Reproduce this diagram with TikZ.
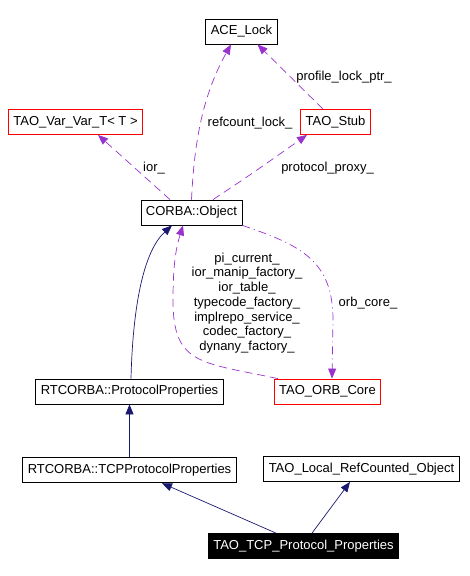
\documentclass[tikz,border=0pt]{standalone}
\usepackage{fontspec}
\setmainfont{Liberation Sans}
\usetikzlibrary{positioning, arrows.meta}
\usepackage{xcolor}
\definecolor{usepurple}{HTML}{9A32CD}
\definecolor{basenavy}{HTML}{191970}

\begin{document}
\begin{tikzpicture}[
                x=1pt, y=-1pt,
                font=\fontsize{13}{14.7}\selectfont,
                cls/.style={rectangle, draw=black, line width=0.8pt, minimum height=25pt, inner xsep=5pt, inner ysep=2pt, fill=white},
                redcls/.style={cls, draw=red},
                thiscls/.style={cls, fill=black, text=white},
                lbl/.style={inner sep=0pt, align=center},
                usearrow/.style={-{Triangle[length=10pt, width=8pt]}, line width=0.7pt, usepurple, dash pattern=on 8pt off 5pt},
                usedotarrow/.style={usearrow, dash pattern=on 8pt off 4pt on 1pt off 4pt},
                basearrow/.style={-{Triangle[length=10pt, width=8pt]}, line width=0.7pt, basenavy}
            ]
            \useasboundingbox (0,0) rectangle (470,576);

            % Used classes
            \node[cls] (acelock) at (241.5,31.5) {ACE\_Lock};
            \node[redcls] (varvar) at (75.5,122) {TAO\_Var\_Var\_T\textless{} T \textgreater};
            \node[redcls] (stub) at (335.5,122) {TAO\_Stub};
            \node[cls] (object) at (191.5,212.5) {CORBA::Object};
            \node[redcls] (orbcore) at (327.5,391.5) {TAO\_ORB\_Core};

            % Base classes
            \node[cls] (protoprops) at (129.5,391.5) {RTCORBA::ProtocolProperties};
            \node[cls, below=53pt of protoprops] (tcpprops) {RTCORBA::TCPProtocolProperties};
            \node[cls] (refcounted) at (361.5,469) {TAO\_Local\_RefCounted\_Object};
            \node[thiscls] (tcpproto) at (303.5,546) {TAO\_TCP\_Protocol\_Properties};

            % Member labels
            \node[lbl] (lrefcount) at (250,123) {refcount\_lock\_};
            \node[lbl] (lprofile) at (344,77) {profile\_lock\_ptr\_};
            \node[lbl] (lior) at (154,168) {ior\_};
            \node[lbl] (lproxy) at (327.5,168) {protocol\_proxy\_};
            \node[lbl] (lorbmembers) at (247,303) {pi\_current\_\\ior\_manip\_factory\_\\ior\_table\_\\typecode\_factory\_\\implrepo\_service\_\\codec\_factory\_\\dynany\_factory\_};
            \node[lbl] (lorbcore) at (368,303) {orb\_core\_};

            % Usage arrows
            \draw[usearrow] (object.north) .. controls (194,150) and (200,100) .. ([xshift=-10.5pt]acelock.south);
            \draw[usearrow] ([xshift=-12.5pt]stub.north) -- ([xshift=16pt]acelock.south);
            \draw[usearrow] ([xshift=-21.5pt]object.north) -- ([xshift=22.5pt]varvar.south);
            \draw[usearrow] ([xshift=21.5pt]object.north) .. controls (250,175) .. ([xshift=-28.5pt]stub.south);
            \draw[usearrow] ([xshift=4pt]orbcore.north west) .. controls (200,362) and (173,365) .. (173,300) .. controls (173,260) and (177,245) .. ([xshift=-8.5pt]object.south);
            \draw[usedotarrow] (object.south east) .. controls (300,245) and (333,260) .. (333,320) -- ([xshift=4.5pt]orbcore.north);

            % Inheritance arrows
            \draw[basearrow] ([xshift=1.5pt]protoprops.north) .. controls (133,300) and (145,250) .. ([xshift=-19.5pt]object.south);
            \draw[basearrow] (tcpprops) -- (protoprops);
            \draw[basearrow] ([xshift=-27.5pt]tcpproto.north) -- ([xshift=32.5pt]tcpprops.south);
            \draw[basearrow] ([xshift=8.5pt]tcpproto.north) -- ([xshift=-11.5pt]refcounted.south);
        \end{tikzpicture}
\end{document}
